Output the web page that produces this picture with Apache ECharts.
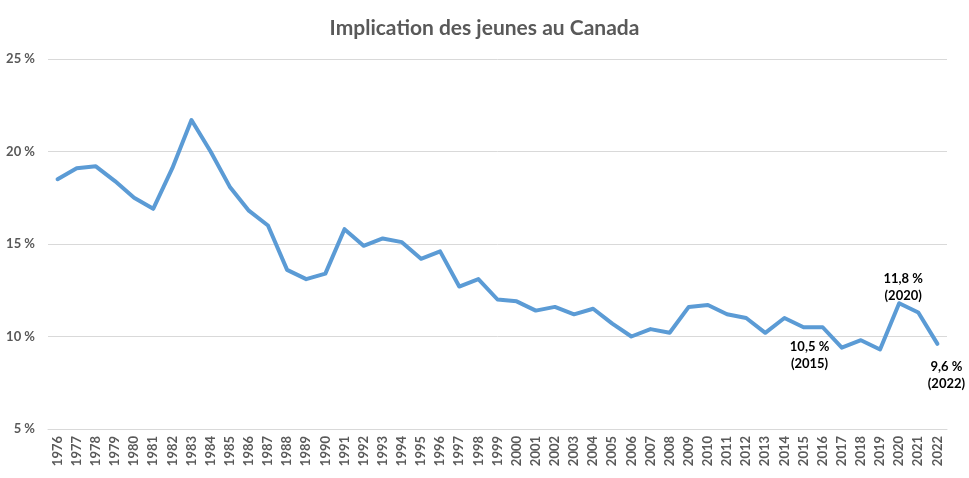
<!DOCTYPE html>
<html><head><meta charset="utf-8">
<script src="https://cdn.jsdelivr.net/npm/echarts@6/dist/echarts.min.js"></script>
<style>html,body{margin:0;padding:0;background:#fff}#c{width:969px;height:478px}</style>
</head><body><div id="c"></div>
<script>
const years = ['1976','1977','1978','1979','1980','1981','1982','1983','1984','1985','1986','1987','1988','1989','1990','1991','1992','1993','1994','1995','1996','1997','1998','1999','2000','2001','2002','2003','2004','2005','2006','2007','2008','2009','2010','2011','2012','2013','2014','2015','2016','2017','2018','2019','2020','2021','2022'];
const values = [18.5,19.1,19.2,18.4,17.5,16.9,19.1,21.7,20.0,18.1,16.8,16.0,13.6,13.1,13.4,15.8,14.9,15.3,15.1,14.2,14.6,12.7,13.1,12.0,11.9,11.4,11.6,11.2,11.5,10.7,10.0,10.4,10.2,11.6,11.7,11.2,11.0,10.2,11.0,10.5,10.5,9.4,9.8,9.3,11.8,11.3,9.6];
const yTicks = [5,10,15,20,25];
const annotYears = ['2015','2020','2022'];
const annotTexts = ['10,5 %\n(2015)','11,8 %\n(2020)','9,6 %\n(2022)'];
const title = 'Implication des jeunes au Canada';

const annotStyle = {
  '2015': {position:'bottom', offset:[6,6]},
  '2020': {position:'top', offset:[4,6]},
  '2022': {position:'bottom', offset:[9,9]}
};
const seriesData = values.map((v,i)=>{
  const k = annotYears.indexOf(years[i]);
  if (k < 0) return v;
  const s = annotStyle[years[i]];
  return {value:v, label:{show:true, position:s.position, offset:s.offset, formatter:annotTexts[k],
    color:'#000', fontWeight:'bold', fontSize:13, lineHeight:17, fontFamily:'Lato', align:'center'}};
});

const chart = echarts.init(document.getElementById('c'), null, {renderer:'canvas'});
chart.setOption({
  animation:false,
  backgroundColor:'#fff',
  title:{text:title, left:'center', top:13, textStyle:{fontFamily:'Lato', fontWeight:'bold', fontSize:21, color:'#595959'}},
  grid:{left:48, right:22, top:59, bottom:49},
  xAxis:{type:'category', data:years, boundaryGap:true,
    axisLine:{show:true, lineStyle:{color:'#d9d9d9', width:1}},
    axisTick:{show:false},
    axisLabel:{rotate:90, interval:0, color:'#595959', fontFamily:'Lato', fontWeight:'bold', fontSize:13, margin:7}},
  yAxis:{type:'value', min:yTicks[0], max:yTicks[yTicks.length-1], interval:5,
    axisLine:{show:false}, axisTick:{show:false},
    splitLine:{lineStyle:{color:'#d9d9d9', width:1}},
    axisLabel:{formatter:'{value} %', color:'#595959', fontFamily:'Lato', fontWeight:'bold', fontSize:13, margin:13}},
  series:[{type:'line', data:seriesData, symbol:'circle', symbolSize:0, showAllSymbol:true, smooth:false,
    lineStyle:{color:'#5B9BD5', width:4, join:'round', cap:'round'},
    itemStyle:{color:'#5B9BD5'}}]
});
</script></body></html>
